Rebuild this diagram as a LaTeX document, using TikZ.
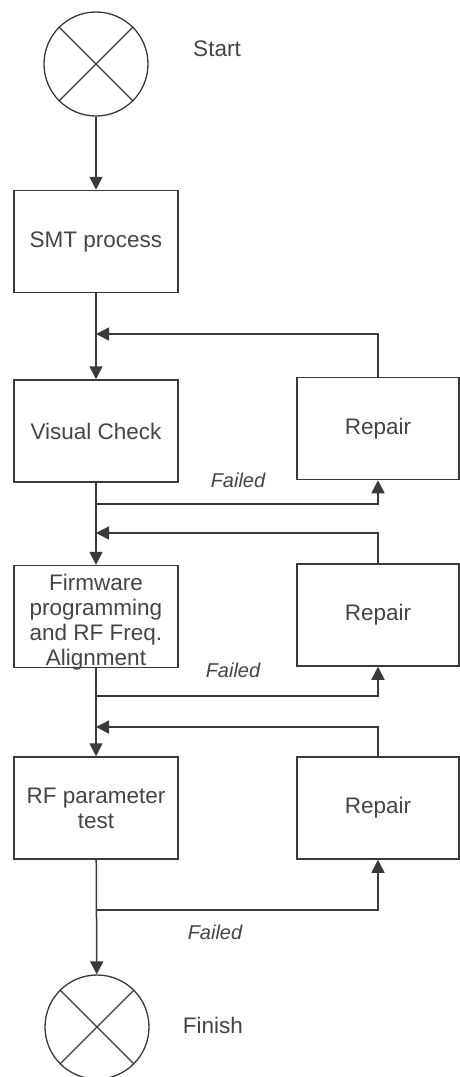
\documentclass[tikz,border=0pt]{standalone}
\usepackage{fontspec}
\setmainfont{Liberation Sans}
\usetikzlibrary{arrows.meta}
\definecolor{ink}{HTML}{3A3A3A}
\definecolor{txt}{HTML}{454545}
\begin{document}
\begin{tikzpicture}[x=1pt,y=-1pt,
 line/.style={draw=ink, line width=1.5pt},
 arr/.style={line, -{Triangle[width=13pt,length=13pt]}},
 box/.style={draw=ink, line width=1.5pt, minimum width=164pt, minimum height=102pt, inner sep=2pt, align=center, text=txt, font=\fontsize{22.5}{25}\selectfont},
 term/.style={circle, draw=ink, line width=1.3pt, minimum size=104pt, inner sep=0pt},
 lbl/.style={text=txt, font=\fontsize{22.5}{25}\selectfont},
 fail/.style={text=txt, font=\fontsize{20}{23}\selectfont\itshape}]
\useasboundingbox (0,0) rectangle (460,1077);
\fill[white] (0,0) rectangle (460,1077);

% terminals
\node[term] (start) at (96,64) {};
\draw[ink, line width=1.2pt] (start.north west) -- (start.south east) (start.north east) -- (start.south west);
\node[lbl] (startlbl) at (217,49) {Start};
\node[term] (finish) at (97,1027) {};
\draw[ink, line width=1.2pt] (finish.north west) -- (finish.south east) (finish.north east) -- (finish.south west);
\node[lbl] (finishlbl) at (213,1025) {Finish};

% process boxes
\node[box] (smt) at (96,241.5) {SMT process};
\node[box] (vc) at (96,431) {Visual Check};
\node[box] (fw) at (96,616.5) {\raisebox{-12pt}[0pt][0pt]{\begin{tabular}{@{}c@{}}Firmware\\programming\\and RF Freq.\\Alignment\end{tabular}}};
\node[box] (rf) at (96,808) {RF parameter\\test};
\node[box, minimum width=162pt] (r1) at (378,428.5) {Repair};
\node[box, minimum width=162pt] (r2) at (378,615) {Repair};
\node[box, minimum width=162pt] (r3) at (378,808) {Repair};

% junction coordinates
\coordinate (m1) at (96,334);
\coordinate (f1) at (96,504);
\coordinate (m2) at (96,533);
\coordinate (f2) at (96,696);
\coordinate (m3) at (96,727);
\coordinate (f3) at (96,910);

% main flow
\draw[arr] (start) -- (smt);
\draw[arr] (smt) -- (vc);
\draw[arr] (vc) -- (fw);
\draw[arr] (fw) -- (rf);
\draw[arr] (rf) -- (finish);

% failed branches
\draw[arr] (f1) -| (r1.south);
\draw[arr] (f2) -| (r2.south);
\draw[arr] (f3) -| (r3.south);

% feedback
\draw[arr] (r1.north) |- (m1);
\draw[arr] (r2.north) |- (m2);
\draw[arr] (r3.north) |- (m3);

% labels
\node[fail] (fl1) at (238,480) {Failed};
\node[fail] (fl2) at (233,670) {Failed};
\node[fail] (fl3) at (215,932) {Failed};
\end{tikzpicture}
\end{document}
